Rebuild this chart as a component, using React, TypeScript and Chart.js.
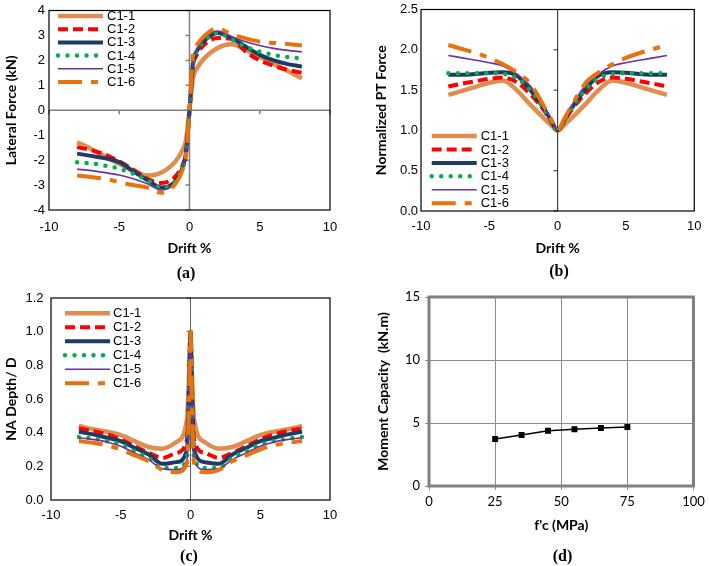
import React, { useEffect, useRef } from 'react';
import { Chart, registerables } from 'chart.js';

Chart.register(...registerables);

// ---------------- DATA ----------------
const SERIES_NAMES = ['C1-1', 'C1-2', 'C1-3', 'C1-4', 'C1-5', 'C1-6'];

// (a) Lateral force vs drift
const DRIFT_A = [-8, -7, -6, -5, -4, -3, -2, -1, -0.5, -0.25, 0, 0.25, 0.5, 1, 2, 3, 4, 5, 6, 7, 8];
const FORCE_C1_1 = [-1.28, -1.55, -1.85, -2.15, -2.42, -2.62, -2.5, -2.05, -1.6, -1.2, 0, 1.3, 1.65, 2.05, 2.5, 2.65, 2.42, 2.15, 1.85, 1.57, 1.28];
const FORCE_C1_2 = [-1.48, -1.6, -1.78, -2.05, -2.38, -2.75, -2.92, -2.65, -2.2, -1.7, 0, 1.75, 2.2, 2.6, 2.9, 2.85, 2.35, 2.0, 1.78, 1.62, 1.5];
const FORCE_C1_3 = [-1.74, -1.83, -1.93, -2.08, -2.45, -2.8, -3.1, -2.85, -2.3, -1.7, 0, 1.9, 2.35, 2.75, 3.1, 2.9, 2.55, 2.22, 2.0, 1.85, 1.75];
const FORCE_C1_4 = [-2.09, -2.13, -2.22, -2.35, -2.55, -2.8, -3.12, -2.85, -2.3, -1.8, 0, 1.9, 2.35, 2.75, 3.1, 2.85, 2.55, 2.35, 2.22, 2.13, 2.08];
const FORCE_C1_5 = [-2.36, -2.42, -2.5, -2.6, -2.75, -2.95, -3.2, -2.9, -2.3, -1.7, 0, 1.95, 2.4, 2.85, 3.18, 2.95, 2.75, 2.6, 2.48, 2.4, 2.34];
const FORCE_C1_6 = [-2.62, -2.68, -2.75, -2.88, -3.0, -3.1, -3.31, -2.95, -2.4, -1.8, 0, 2.25, 2.6, 2.95, 3.28, 3.05, 2.88, 2.75, 2.7, 2.66, 2.6];

// (b) Normalized PT force vs drift
const DRIFT_B = [-8, -7, -6, -5, -4, -3, -2, -1, -0.5, 0, 0.5, 1, 2, 3, 4, 5, 6, 7, 8];
const PT_C1_1 = [1.44, 1.49, 1.54, 1.59, 1.62, 1.5, 1.32, 1.15, 1.07, 1.0, 1.07, 1.15, 1.32, 1.5, 1.62, 1.59, 1.54, 1.49, 1.44];
const PT_C1_2 = [1.545, 1.58, 1.61, 1.64, 1.655, 1.6, 1.45, 1.25, 1.12, 1.0, 1.12, 1.25, 1.45, 1.6, 1.655, 1.64, 1.61, 1.58, 1.545];
const PT_C1_3 = [1.69, 1.69, 1.7, 1.715, 1.72, 1.68, 1.5, 1.27, 1.13, 1.0, 1.13, 1.27, 1.5, 1.68, 1.72, 1.715, 1.7, 1.69, 1.69];
const PT_C1_4 = [1.71, 1.71, 1.71, 1.71, 1.7, 1.65, 1.5, 1.27, 1.13, 1.0, 1.13, 1.27, 1.5, 1.65, 1.7, 1.71, 1.71, 1.71, 1.71];
const PT_C1_5 = [1.93, 1.9, 1.87, 1.84, 1.8, 1.7, 1.55, 1.3, 1.15, 1.0, 1.15, 1.3, 1.55, 1.7, 1.8, 1.84, 1.87, 1.9, 1.93];
const PT_C1_6 = [2.06, 2.01, 1.96, 1.9, 1.82, 1.72, 1.58, 1.3, 1.15, 1.0, 1.15, 1.3, 1.58, 1.72, 1.82, 1.9, 1.96, 2.01, 2.06];

// (c) NA depth / D vs drift
const DRIFT_C = [-8, -7, -6, -5, -4, -3, -2, -1, -0.25, -0.1, 0, 0.1, 0.25, 1, 2, 3, 4, 5, 6, 7, 8];
const NA_C1_1 = [0.44, 0.42, 0.405, 0.385, 0.35, 0.315, 0.305, 0.345, 0.48, 0.75, 1.0, 0.75, 0.48, 0.345, 0.305, 0.315, 0.35, 0.385, 0.405, 0.42, 0.44];
const NA_C1_2 = [0.425, 0.41, 0.39, 0.36, 0.32, 0.28, 0.25, 0.28, 0.36, 0.7, 1.0, 0.7, 0.36, 0.28, 0.25, 0.28, 0.32, 0.36, 0.39, 0.41, 0.425];
const NA_C1_3 = [0.405, 0.39, 0.37, 0.35, 0.31, 0.27, 0.215, 0.225, 0.3, 0.65, 1.0, 0.65, 0.3, 0.225, 0.215, 0.27, 0.31, 0.35, 0.37, 0.39, 0.405];
const NA_C1_4 = [0.375, 0.365, 0.35, 0.33, 0.29, 0.25, 0.19, 0.19, 0.25, 0.62, 1.0, 0.62, 0.25, 0.19, 0.19, 0.25, 0.29, 0.33, 0.35, 0.365, 0.375];
const NA_C1_5 = [0.37, 0.36, 0.345, 0.32, 0.28, 0.24, 0.185, 0.18, 0.24, 0.6, 1.0, 0.6, 0.24, 0.18, 0.185, 0.24, 0.28, 0.32, 0.345, 0.36, 0.37];
const NA_C1_6 = [0.35, 0.34, 0.325, 0.3, 0.265, 0.23, 0.178, 0.165, 0.22, 0.6, 1.0, 0.6, 0.22, 0.165, 0.178, 0.23, 0.265, 0.3, 0.325, 0.34, 0.35];

// (d) Moment capacity vs f'c
const FC_MPA = [25, 35, 45, 55, 65, 75];
const MOMENT_KNM = [3.73, 4.05, 4.39, 4.5, 4.6, 4.68];

// ---------------- STYLES ----------------
const STYLES = [
  { color: '#DE8E4E', width: 4.5, dash: [] as number[], cap: 'butt' },
  { color: '#FF0000', width: 4, dash: [10, 5], cap: 'butt' },
  { color: '#1F3A64', width: 4, dash: [] as number[], cap: 'butt' },
  { color: '#00B050', width: 4.5, dash: [0, 9.5], cap: 'round' },
  { color: '#7030A0', width: 1.6, dash: [] as number[], cap: 'butt' },
  { color: '#E8720C', width: 4, dash: [24, 9, 7, 9], cap: 'butt' },
];

const TICK_FONT = { family: '"Liberation Sans", Arial, sans-serif', size: 13, lineHeight: 1 };
const TITLE_FONT = { family: 'Lato, "Open Sans", sans-serif', size: 14, weight: 'bold' as const };

function makeDatasets(xs: number[], series: number[][]) {
  return series.map((ys, i) => ({
    label: SERIES_NAMES[i],
    data: xs.map((x, j) => ({ x, y: ys[j] })),
    borderColor: STYLES[i].color,
    backgroundColor: STYLES[i].color,
    borderWidth: STYLES[i].width,
    borderDash: STYLES[i].dash,
    borderCapStyle: STYLES[i].cap,
    borderJoinStyle: 'round',
    pointRadius: 0,
    cubicInterpolationMode: 'monotone',
    fill: false,
    order: 5 - i,
  }));
}

// ---------------- PLUGINS ----------------
const frameAxesPlugin = {
  id: 'frameAxes',
  beforeDatasetsDraw(chart: any, _args: any, opts: any) {
    const { ctx, chartArea: a, scales } = chart;
    ctx.save();
    if (opts.zeroX) {
      const z = opts.zeroX;
      const px = scales.x.getPixelForValue(0);
      ctx.strokeStyle = z.color;
      ctx.lineWidth = z.width;
      ctx.beginPath();
      ctx.moveTo(px, a.top);
      ctx.lineTo(px, a.bottom);
      scales.y.ticks.forEach((t: any) => {
        const py = scales.y.getPixelForValue(t.value);
        ctx.moveTo(px - z.tick, py);
        ctx.lineTo(px, py);
      });
      ctx.stroke();
    }
    if (opts.zeroY) {
      const z = opts.zeroY;
      const py = scales.y.getPixelForValue(0);
      ctx.strokeStyle = z.color;
      ctx.lineWidth = z.width;
      ctx.beginPath();
      ctx.moveTo(a.left, py);
      ctx.lineTo(a.right, py);
      scales.x.ticks.forEach((t: any) => {
        const px = scales.x.getPixelForValue(t.value);
        ctx.moveTo(px, py);
        ctx.lineTo(px, py + z.tick);
      });
      ctx.stroke();
    }
    ctx.restore();
  },
  afterDatasetsDraw(chart: any, _args: any, opts: any) {
    const { ctx, chartArea: a } = chart;
    if (!opts.frame) return;
    ctx.save();
    ctx.strokeStyle = opts.frame.color;
    ctx.lineWidth = opts.frame.width;
    ctx.strokeRect(a.left, a.top, a.right - a.left, a.bottom - a.top);
    ctx.restore();
  },
};

const inLegendPlugin = {
  id: 'inLegend',
  afterDatasetsDraw(chart: any, _args: any, opts: any) {
    if (!opts || !opts.display) return;
    const { ctx } = chart;
    chart.data.datasets.forEach((ds: any, i: number) => {
      const y = opts.y + i * opts.dy;
      ctx.save();
      ctx.strokeStyle = ds.borderColor;
      ctx.lineWidth = ds.borderWidth;
      ctx.setLineDash(ds.borderDash || []);
      ctx.lineCap = ds.borderCapStyle || 'butt';
      ctx.beginPath();
      ctx.moveTo(opts.x, y);
      ctx.lineTo(opts.x + opts.len, y);
      ctx.stroke();
      ctx.setLineDash([]);
      ctx.fillStyle = '#000';
      ctx.font = '13px "Liberation Sans", Arial, sans-serif';
      ctx.textBaseline = 'middle';
      ctx.textAlign = 'left';
      ctx.fillText(ds.label, opts.x + opts.len + opts.gap, y + 0.5);
      ctx.restore();
    });
  },
};

// ---------------- CONFIGS ----------------
type DriftCfg = {
  datasets: any[];
  yMin: number; yMax: number; yStep: number; yFixed: boolean;
  yTitle: string;
  padTop: number; padRight: number;
  yWidth: number; xHeight: number;
  xTickPad: number; yTickPad: number;
  xTitlePad: number; yTitlePad: number;
  frameAxes: any; legend: any;
};

function driftConfig(c: DriftCfg): any {
  return {
    type: 'line',
    data: { datasets: c.datasets },
    plugins: [frameAxesPlugin, inLegendPlugin],
    options: {
      responsive: false,
      animation: false,
      events: [],
      layout: { padding: { left: 0, top: c.padTop, right: c.padRight, bottom: 0 } },
      plugins: {
        legend: { display: false },
        tooltip: { enabled: false },
        frameAxes: c.frameAxes,
        inLegend: c.legend,
      },
      scales: {
        x: {
          type: 'linear', min: -10, max: 10,
          ticks: { stepSize: 5, padding: c.xTickPad, font: TICK_FONT, color: '#000', maxRotation: 0, autoSkip: false },
          grid: { display: false, drawTicks: false },
          border: { display: false },
          title: { display: true, text: 'Drift %', font: TITLE_FONT, color: '#000', padding: { top: 0, bottom: c.xTitlePad } },
          afterFit: (s: any) => { s.height = c.xHeight; },
        },
        y: {
          type: 'linear', min: c.yMin, max: c.yMax,
          ticks: {
            stepSize: c.yStep, padding: c.yTickPad, font: TICK_FONT, color: '#000',
            callback: (v: any) => (c.yFixed ? Number(v).toFixed(1) : String(v)),
          },
          grid: { display: false, drawTicks: false },
          border: { display: false },
          title: { display: true, text: c.yTitle, font: TITLE_FONT, color: '#000', padding: { top: c.yTitlePad, bottom: 0 } },
          afterFit: (s: any) => { s.width = c.yWidth; },
        },
      },
    },
  };
}

const configA = () => driftConfig({
  datasets: makeDatasets(DRIFT_A, [FORCE_C1_1, FORCE_C1_2, FORCE_C1_3, FORCE_C1_4, FORCE_C1_5, FORCE_C1_6]),
  yMin: -4, yMax: 4, yStep: 1, yFixed: false,
  yTitle: 'Lateral Force (kN)',
  padTop: 7, padRight: 25, yWidth: 49, xHeight: 75,
  xTickPad: 10.5, yTickPad: 4, xTitlePad: 28.6, yTitlePad: 2.6,
  frameAxes: {
    zeroX: { color: '#808080', width: 1.5, tick: 4 },
    zeroY: { color: '#808080', width: 1.5, tick: 4 },
    frame: { color: '#000', width: 1.2 },
  },
  legend: { display: true, x: 58, y: 16, dy: 13.2, len: 45, gap: 4 },
});

const configB = () => driftConfig({
  datasets: makeDatasets(DRIFT_B, [PT_C1_1, PT_C1_2, PT_C1_3, PT_C1_4, PT_C1_5, PT_C1_6]),
  yMin: 0, yMax: 2.5, yStep: 0.5, yFixed: true,
  yTitle: 'Normalized PT Force',
  padTop: 7, padRight: 7, yWidth: 66, xHeight: 74,
  xTickPad: 8.5, yTickPad: 3, xTitlePad: 28.3, yTitlePad: 18.3,
  frameAxes: {
    zeroX: { color: '#202020', width: 1, tick: 4 },
    frame: { color: '#000', width: 1.2 },
  },
  legend: { display: true, x: 76.7, y: 136, dy: 13.45, len: 45, gap: 4 },
});

const configC = () => driftConfig({
  datasets: makeDatasets(DRIFT_C, [NA_C1_1, NA_C1_2, NA_C1_3, NA_C1_4, NA_C1_5, NA_C1_6]),
  yMin: 0, yMax: 1.2, yStep: 0.2, yFixed: true,
  yTitle: 'NA Depth/ D',
  padTop: 15, padRight: 25, yWidth: 51, xHeight: 66,
  xTickPad: 8.5, yTickPad: 7.5, xTitlePad: 22.6, yTitlePad: 3.3,
  frameAxes: {
    zeroX: { color: '#606060', width: 1, tick: 4 },
    frame: { color: '#000', width: 1.2 },
  },
  legend: { display: true, x: 65, y: 30.3, dy: 14, len: 45, gap: 3 },
});

const configD = (): any => ({
  type: 'line',
  data: {
    datasets: [{
      label: 'Moment Capacity',
      data: FC_MPA.map((x, i) => ({ x, y: MOMENT_KNM[i] })),
      borderColor: '#000',
      backgroundColor: '#000',
      borderWidth: 1.5,
      pointStyle: 'rect',
      pointRadius: 4.2,
      pointBackgroundColor: '#000',
      pointBorderColor: '#000',
      pointBorderWidth: 0,
      tension: 0,
      fill: false,
    }],
  },
  plugins: [frameAxesPlugin],
  options: {
    responsive: false,
    animation: false,
    events: [],
    layout: { padding: { left: 0, top: 14, right: 15, bottom: 0 } },
    plugins: {
      legend: { display: false },
      tooltip: { enabled: false },
      frameAxes: { frame: { color: '#808080', width: 3 } },
    },
    scales: {
      x: {
        type: 'linear', min: 0, max: 100,
        ticks: { stepSize: 25, padding: 5.2, font: { family: 'Lato, sans-serif', size: 13, lineHeight: 1 }, color: '#000', maxRotation: 0, autoSkip: false },
        grid: { display: true, color: '#8c8c8c', lineWidth: 1, drawTicks: true, tickLength: 4 },
        border: { display: false },
        title: { display: true, text: "f'c (MPa)", font: TITLE_FONT, color: '#000', padding: { top: 0, bottom: 31.9 } },
        afterFit: (s: any) => { s.height = 80; },
      },
      y: {
        type: 'linear', min: 0, max: 15,
        ticks: { stepSize: 5, padding: 5, font: { family: 'Lato, sans-serif', size: 13, lineHeight: 1 }, color: '#000' },
        grid: { display: true, color: '#8c8c8c', lineWidth: 1, drawTicks: true, tickLength: 4 },
        border: { display: false },
        title: { display: true, text: 'Moment Capacity  (kN.m)', font: TITLE_FONT, color: '#000', padding: { top: 19.9, bottom: 0 } },
        afterFit: (s: any) => { s.width = 74; },
      },
    },
  },
});

// ---------------- COMPONENTS ----------------
function ChartPanel({ make, left, top, width, height }: { make: () => any; left: number; top: number; width: number; height: number }) {
  const ref = useRef<HTMLCanvasElement | null>(null);
  useEffect(() => {
    if (!ref.current) return;
    const chart = new Chart(ref.current, make());
    return () => chart.destroy();
  }, []);
  return (
    <canvas
      ref={ref}
      width={width}
      height={height}
      style={{ position: 'absolute', left, top, width, height }}
    />
  );
}

function Caption({ text, cx, cy }: { text: string; cx: number; cy: number }) {
  return (
    <div
      style={{
        position: 'absolute', left: cx - 30, top: cy - 10, width: 60, height: 20,
        lineHeight: '20px', textAlign: 'center',
        font: 'bold 16px "Liberation Serif", "Times New Roman", serif', color: '#000',
      }}
    >
      {text}
    </div>
  );
}

export default function App() {
  return (
    <div style={{ position: 'absolute', left: 0, top: 0, width: 710, height: 566, background: '#fff', overflow: 'hidden' }}>
      <ChartPanel make={configA} left={0} top={0} width={355} height={285} />
      <ChartPanel make={configB} left={355} top={0} width={355} height={285} />
      <ChartPanel make={configC} left={0} top={283} width={355} height={283} />
      <ChartPanel make={configD} left={355} top={283} width={355} height={283} />
      <Caption text="(a)" cx={186} cy={274} />
      <Caption text="(b)" cx={559} cy={272} />
      <Caption text="(c)" cx={189} cy={557} />
      <Caption text="(d)" cx={562.5} cy={557} />
    </div>
  );
}
